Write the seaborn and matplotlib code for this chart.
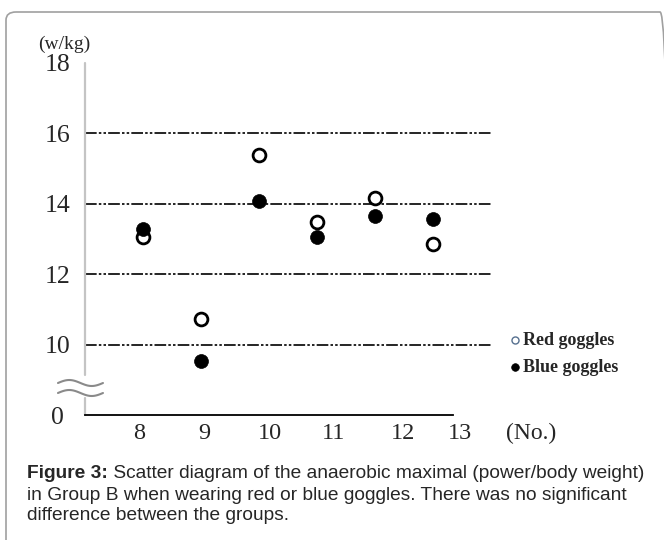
import numpy as np
import pandas as pd
import matplotlib
matplotlib.use("Agg")
import matplotlib.pyplot as plt
import seaborn as sns
from matplotlib.patches import FancyBboxPatch

# Subject numbers and anaerobic maximal power (w/kg)
subjects = [8, 9, 10, 11, 12, 13]
red_goggles = [13.06, 10.74, 15.40, 13.49, 14.17, 12.86]
blue_goggles = [13.29, 9.54, 14.09, 13.06, 13.66, 13.57]

y_ticks = [8, 10, 12, 14, 16, 18]
y_tick_labels = ["0", "10", "12", "14", "16", "18"]
grid_levels = [10, 12, 14, 16]
# the original's number labels sit a little apart from the points
x_label_pos = [7.93, 9.05, 10.19, 11.28, 12.48, 13.47]

df = pd.DataFrame({"No": subjects, "red": red_goggles, "blue": blue_goggles})

sns.set_style("white")
plt.rcParams["font.family"] = ["Liberation Serif", "DejaVu Serif"]

W, H = 664, 540
fig = plt.figure(figsize=(W / 100, H / 100), dpi=100)
ax = fig.add_axes([85 / W, 125 / H, 407 / W, 352 / H])

# dash-dot-dot grid lines
for lvl in grid_levels:
    ax.axhline(lvl, color="black", lw=1.2, linestyle=(0, (7, 1.3, 1.5, 1.3, 1.5, 1.3)), zorder=1)

sns.scatterplot(data=df, x="No", y="red", ax=ax, marker="o", s=85,
                facecolor="white", edgecolor="black", linewidth=2,
                label="Red goggles", zorder=3)
sns.scatterplot(data=df, x="No", y="blue", ax=ax, marker="o", s=100,
                color="black", edgecolor="black", linewidth=0.5,
                label="Blue goggles", zorder=4)

ax.set_xlim(7.0, 14.017)
ax.set_ylim(8, 18)
ax.set_xlabel("")
ax.set_ylabel("")

# axes lines: black x axis ending short of the grid, light grey broken y axis
for s in ["top", "right", "left"]:
    ax.spines[s].set_visible(False)
ax.spines["bottom"].set_bounds(7.0, 13.34)
ax.spines["bottom"].set_color("black")
ax.spines["bottom"].set_linewidth(1.3)
ax.axvline(7.0, ymin=0.114, ymax=1.0, color="#c4c4c4", lw=1.6, clip_on=False)
ax.axvline(7.0, ymin=0.0, ymax=0.048, color="#c4c4c4", lw=1.6, clip_on=False)

# axis break mark
t = np.linspace(0, 1, 60)
for y0 in [8.909, 8.625]:
    ax.plot(6.534 + t * 0.776, y0 + 0.085 * np.sin(2 * np.pi * t),
            color="#8a8a8a", lw=1.5, clip_on=False, zorder=5)

ax.set_xticks(x_label_pos)
ax.set_xticklabels([str(s) for s in subjects], fontsize=17.5)
ax.set_yticks(y_ticks)
ax.set_yticklabels(y_tick_labels, fontsize=18.5)
ax.tick_params(axis="x", length=0, pad=6)
ax.tick_params(axis="y", length=0, pad=20)
for lab in ax.get_yticklabels():
    lab.set_horizontalalignment("center")

fig.text(64 / W, 1 - 44 / H, "(w/kg)", fontsize=14, ha="center", va="center")
fig.text(531 / W, 1 - 433 / H, "(No.)", fontsize=17, ha="center", va="center")

leg = ax.legend(loc="upper left", bbox_to_anchor=(500 / W, 1 - 323 / H),
                bbox_transform=fig.transFigure, frameon=False,
                prop={"family": "Liberation Serif", "weight": "bold", "size": 13},
                markerscale=0.55, handletextpad=0.05, handlelength=0.7,
                labelspacing=0.55, borderpad=0)
leg.legend_handles[0].set_edgecolor("#56708f")
leg.legend_handles[0].set_linewidth(1.0)

# caption
cap_font = {"family": ["Liberation Sans", "DejaVu Sans"], "size": 13.8}
x0 = 27 / W
t1 = fig.text(x0, 1 - 474 / H, "Figure 3:", fontdict=cap_font, weight="bold", va="center")
fig.canvas.draw()
bb = t1.get_window_extent(fig.canvas.get_renderer())
fig.text(bb.x1 / W, 1 - 474 / H, " Scatter diagram of the anaerobic maximal (power/body weight)",
         fontdict=cap_font, va="center")
fig.text(x0, 1 - 495 / H, "in Group B when wearing red or blue goggles. There was no significant",
         fontdict=cap_font, va="center")
fig.text(x0, 1 - 515 / H, "difference between the groups.", fontdict=cap_font, va="center")

# rounded frame, cropped at right and bottom
frame = FancyBboxPatch((6 / W, -0.1), 1.0, 1 - 12 / H + 0.1,
                       boxstyle="round,pad=0,rounding_size=0.015",
                       transform=fig.transFigure, fill=False,
                       edgecolor="#a0a0a0", lw=1.2)
fig.add_artist(frame)

fig.savefig("out.png", dpi=100)
plt.close(fig)
